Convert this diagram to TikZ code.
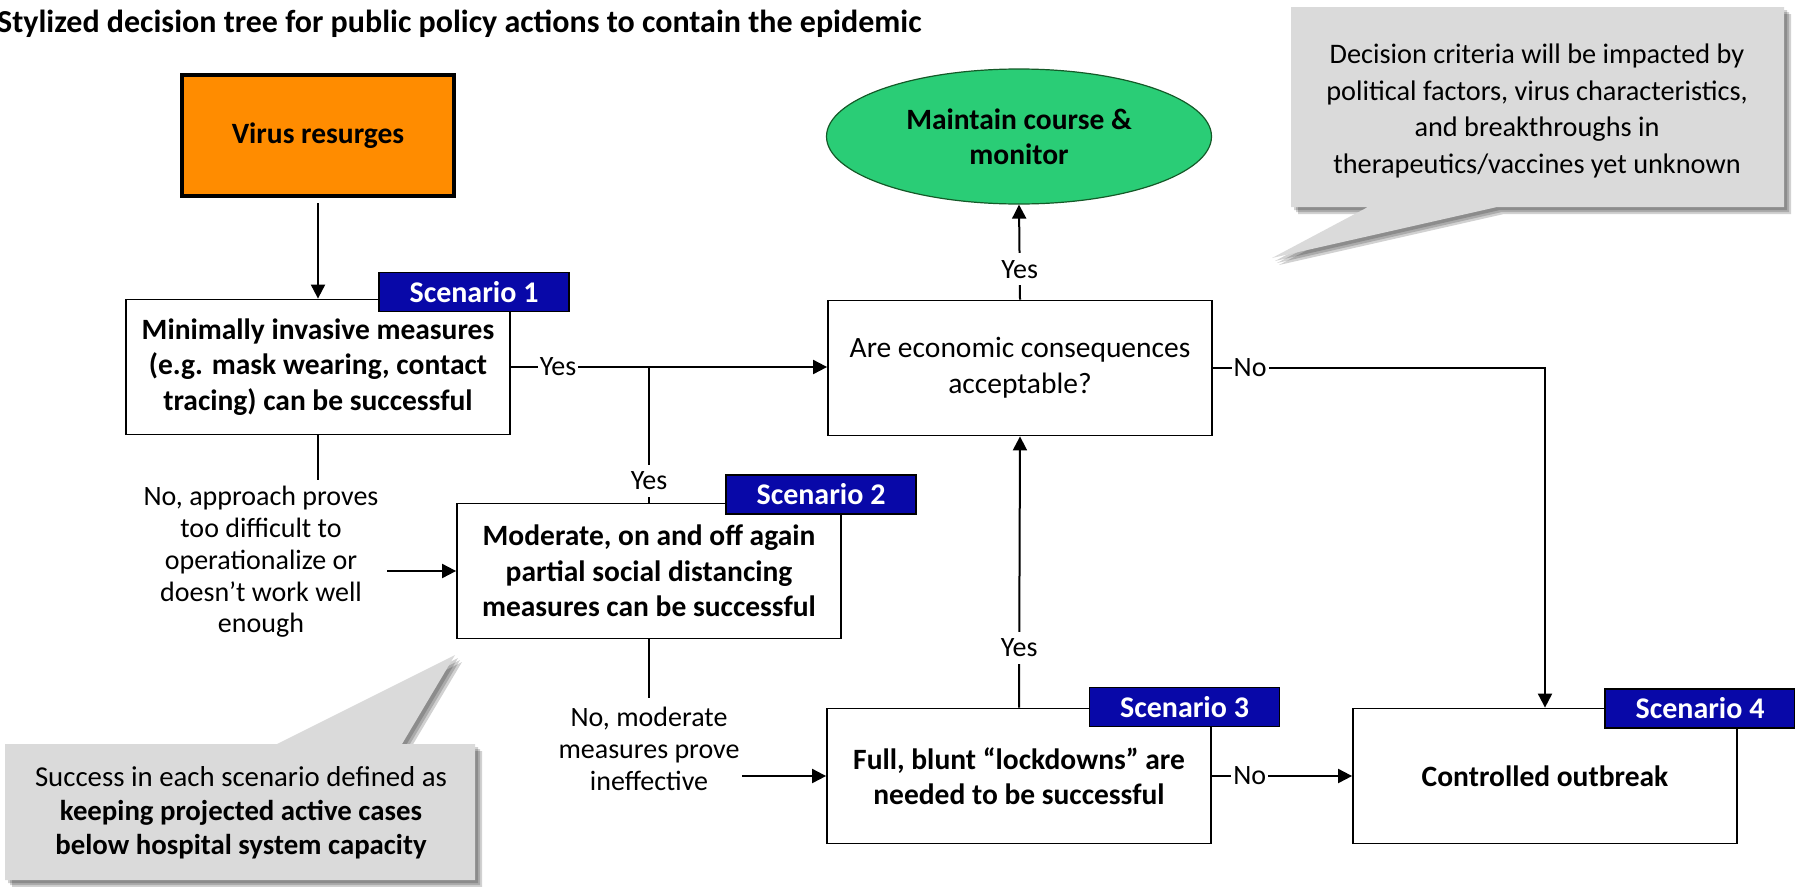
\documentclass[tikz,border=0pt]{standalone}
\usepackage{fontspec}
\setmainfont{Carlito}
\usetikzlibrary{arrows.meta,shapes.geometric}
\definecolor{orangefill}{RGB}{255,140,0}
\definecolor{tagblue}{RGB}{8,8,168}
\definecolor{greenfill}{RGB}{42,205,118}
\definecolor{greenline}{RGB}{20,90,40}
\definecolor{calloutgray}{RGB}{218,218,218}
\begin{document}
\begin{tikzpicture}[x=1pt,y=-1pt,
  every node/.style={inner sep=0pt},
  flowbox/.style={draw=black, line width=1.8pt, fill=white, minimum width=384pt, minimum height=135pt, align=center, font=\fontsize{29.5}{35.5}\selectfont\bfseries},
  qbox/.style={flowbox, font=\fontsize{29.5}{36}\selectfont},
  tag/.style={draw=black, line width=1.5pt, fill=tagblue, text=white, minimum width=190pt, minimum height=39pt, font=\fontsize{30}{34}\selectfont\bfseries},
  lbl/.style={fill=white, inner xsep=2pt, inner ysep=7pt, font=\fontsize{28}{34}\selectfont},
  note/.style={align=center, font=\fontsize{28}{31.7}\selectfont},
  conn/.style={line width=2pt},
  arr/.style={conn, -{Triangle[length=14pt,width=14pt]}},
  callout/.style={fill=calloutgray},
  cshadow/.style={fill=black, opacity=0.18},
]
\useasboundingbox (0,0) rectangle (1795,886);

% title
\node[anchor=west, font=\fontsize{32}{38}\selectfont\bfseries] (title) at (-3,24) {Stylized decision tree for public policy actions to contain the epidemic};

% callout top right
\foreach \d in {3,5,7}{
  \fill[cshadow, xshift=\d pt, yshift=-\d pt] (1291,7) -- (1784,7) -- (1784,207) -- (1497,207) -- (1272,258) -- (1368,207) -- (1291,207) -- cycle;
}
\fill[callout] (1291,7) -- (1784,7) -- (1784,207) -- (1497,207) -- (1272,258) -- (1368,207) -- (1291,207) -- cycle;
\node[align=center, font=\fontsize{28.3}{36.5}\selectfont] (crit) at (1537,111) {Decision criteria will be impacted by\\political factors, virus characteristics,\\and breakthroughs in\\therapeutics/vaccines yet unknown};

% callout bottom left
\foreach \d in {3,5,7}{
  \fill[cshadow, xshift=\d pt, yshift=-\d pt] (5,744) -- (277,744) -- (455,655) -- (402,744) -- (475,744) -- (475,880) -- (5,880) -- cycle;
}
\fill[callout] (5,744) -- (277,744) -- (455,655) -- (402,744) -- (475,744) -- (475,880) -- (5,880) -- cycle;
\node[align=center, font=\fontsize{28.8}{34}\selectfont] (succ) at (241,813) {Success in each scenario defined as\\\textbf{keeping projected active cases}\\\textbf{below hospital system capacity}};

% nodes
\node[draw=black, line width=4pt, fill=orangefill, minimum width=272pt, minimum height=121pt, font=\fontsize{29.5}{34}\selectfont\bfseries] (virus) at (318,135.5) {Virus resurges};
\node[ellipse, draw=greenline, line width=1.2pt, fill=greenfill, minimum width=385pt, minimum height=135pt, align=center, font=\fontsize{29.5}{35}\selectfont\bfseries] (ell) at (1019,136.5) {Maintain course \&\\monitor};

\node[flowbox] (b1) at (318,367) {Minimally invasive measures\\(e.g. mask wearing, contact\\tracing) can be successful};
\node[flowbox] (b2) at (649,571) {Moderate, on and off again\\partial social distancing\\measures can be successful};
\node[qbox] (are) at (1020,368) {Are economic consequences\\acceptable?};
\node[flowbox] (b3) at (1019,776) {Full, blunt “lockdowns” are\\needed to be successful};
\node[flowbox] (b4) at (1545,776) {Controlled outbreak};

\node[tag] (s1) at (474,292) {Scenario 1};
\node[tag] (s2) at (821,494.5) {Scenario 2};
\node[tag] (s3) at (1184.5,707) {Scenario 3};
\node[tag] (s4) at (1700,708.5) {Scenario 4};

% notes
\node[note] (no1) at (261,562) {No, approach proves\\too difficult to\\operationalize or\\doesn’t work well\\enough};
\node[note] (no2) at (649,749) {No, moderate\\measures prove\\ineffective};

\coordinate (j1) at (649,367);
\coordinate (d1) at (318,480);
\coordinate (a1) at (387,571);
\coordinate (d2) at (649,698);
\coordinate (a2) at (742,776);

% connectors
\draw[arr, shorten <=5pt] (virus.south) -- (b1.north);
\draw[arr] (b1.east) -- node[lbl, inner ysep=1pt, pos=0.149] {Yes} (b1.east -| are.west);
\draw[conn] (b2.north) -- node[lbl, pos=0.16] {Yes} (j1);
\draw[conn] (b1.south) -- (d1);
\draw[arr] (a1) -- (b2.west);
\draw[conn] (b2.south) -- (d2);
\draw[arr] (a2) -- (b3.west);
\draw[arr] (b3.north) -- node[lbl, pos=0.22] {Yes} (are.south);
\draw[arr] (are.north) -- node[lbl, pos=0.32] {Yes} (ell.south);
\draw[arr] (are.east) -| node[lbl, inner ysep=1pt, pos=0.056] {No} (b4.north);
\draw[arr] (b3.east) -- node[lbl, inner ysep=1pt, pos=0.27] {No} (b4.west);
\end{tikzpicture}
\end{document}
